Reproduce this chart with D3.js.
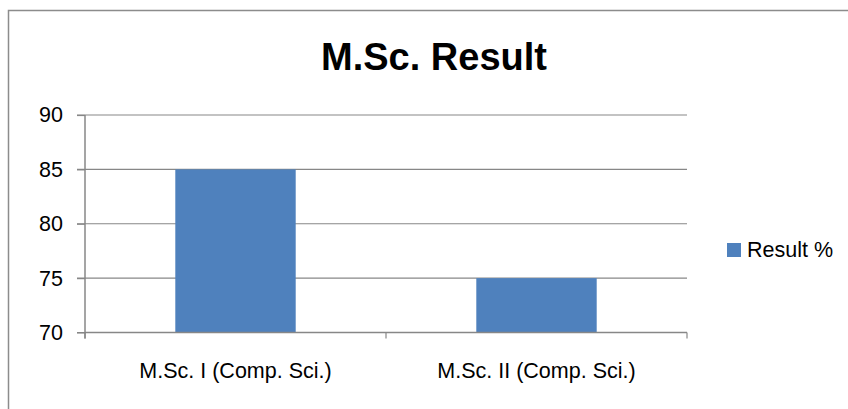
<!DOCTYPE html>
<html>
<head>
<meta charset="utf-8">
<script src="https://cdn.jsdelivr.net/npm/d3@7"></script>
<style>
  html, body { margin: 0; padding: 0; background: #fff; }
  svg { display: block; }
</style>
</head>
<body>
<script>
// chart data
const categories = ['M.Sc. I (Comp. Sci.)', 'M.Sc. II (Comp. Sci.)'];
const resultValues = [85, 75];
const seriesName = 'Result %';
const yTicks = [70, 75, 80, 85, 90];
const chartTitle = 'M.Sc. Result';

document.addEventListener('DOMContentLoaded', function() {
    const width = 848;
    const height = 409;
    const font = '"Liberation Sans", Arial, sans-serif';
    const gridColor = '#878787';

    const svg = d3.select('body').append('svg')
        .attr('width', width)
        .attr('height', height);

    // outer frame (right and bottom edges fall outside the picture)
    svg.append('rect')
        .attr('x', 8.5)
        .attr('y', 10.5)
        .attr('width', width + 20)
        .attr('height', height + 20)
        .attr('fill', 'none')
        .attr('stroke', '#8c8c8c')
        .attr('stroke-width', 1.5);

    const plotLeft = 85, plotRight = 687;

    const x = d3.scaleBand()
        .domain(categories)
        .range([plotLeft, plotRight])
        .paddingInner(0.6)
        .paddingOuter(0.3);

    const y = d3.scaleLinear()
        .domain([70, 90])
        .range([332.5, 115]);

    // horizontal gridlines
    svg.append('g')
        .selectAll('line')
        .data(yTicks)
        .enter().append('line')
        .attr('x1', plotLeft - 8)
        .attr('x2', plotRight)
        .attr('y1', d => y(d))
        .attr('y2', d => y(d))
        .attr('stroke', gridColor)
        .attr('stroke-width', 1.2);

    // bars
    svg.append('g')
        .selectAll('rect')
        .data(resultValues)
        .enter().append('rect')
        .attr('x', (d, i) => x(categories[i]))
        .attr('width', x.bandwidth())
        .attr('y', d => y(d))
        .attr('height', d => y(70) - y(d))
        .attr('fill', '#4f81bd');

    // y axis
    const yAxis = svg.append('g')
        .attr('transform', `translate(${plotLeft},0)`)
        .call(d3.axisLeft(y).tickValues(yTicks).tickSize(8).tickPadding(14));
    yAxis.select('.domain')
        .attr('d', `M0,${y(90)}V${y(70) + 6}`)
        .attr('stroke', gridColor)
        .attr('stroke-width', 1.5);
    yAxis.selectAll('.tick line').attr('stroke', gridColor).attr('stroke-width', 1.2);
    yAxis.selectAll('.tick text')
        .attr('fill', '#000')
        .style('font-family', font)
        .style('font-size', '21.5px');

    // x axis
    const xAxis = svg.append('g')
        .attr('transform', `translate(0,${y(70)})`)
        .call(d3.axisBottom(x).tickSize(0).tickPadding(30));
    xAxis.select('.domain').remove();
    xAxis.append('line')
        .attr('x1', plotLeft)
        .attr('x2', plotRight)
        .attr('stroke', gridColor)
        .attr('stroke-width', 1.5);
    // tick marks sit between the categories
    const bounds = [plotLeft].concat(categories.map(c => x(c) - x.step() * x.paddingInner() / 2 + x.step()));
    xAxis.selectAll('.sep')
        .data(bounds)
        .enter().append('line')
        .attr('class', 'sep')
        .attr('x1', d => d)
        .attr('x2', d => d)
        .attr('y1', 0)
        .attr('y2', 6)
        .attr('stroke', gridColor)
        .attr('stroke-width', 1.2);
    xAxis.selectAll('.tick text')
        .attr('fill', '#000')
        .style('font-family', font)
        .style('font-size', '21.5px');

    // title
    svg.append('text')
        .attr('x', 434)
        .attr('y', 70)
        .attr('text-anchor', 'middle')
        .style('font-family', font)
        .style('font-weight', 'bold')
        .style('font-size', '38px')
        .text(chartTitle);

    // legend
    const legend = svg.append('g').attr('transform', 'translate(727,243)');
    legend.append('rect')
        .attr('width', 14)
        .attr('height', 14)
        .attr('fill', '#4f81bd');
    legend.append('text')
        .attr('x', 20)
        .attr('y', 14)
        .style('font-family', font)
        .style('font-size', '21.5px')
        .text(seriesName);
});
</script>
</body>
</html>
